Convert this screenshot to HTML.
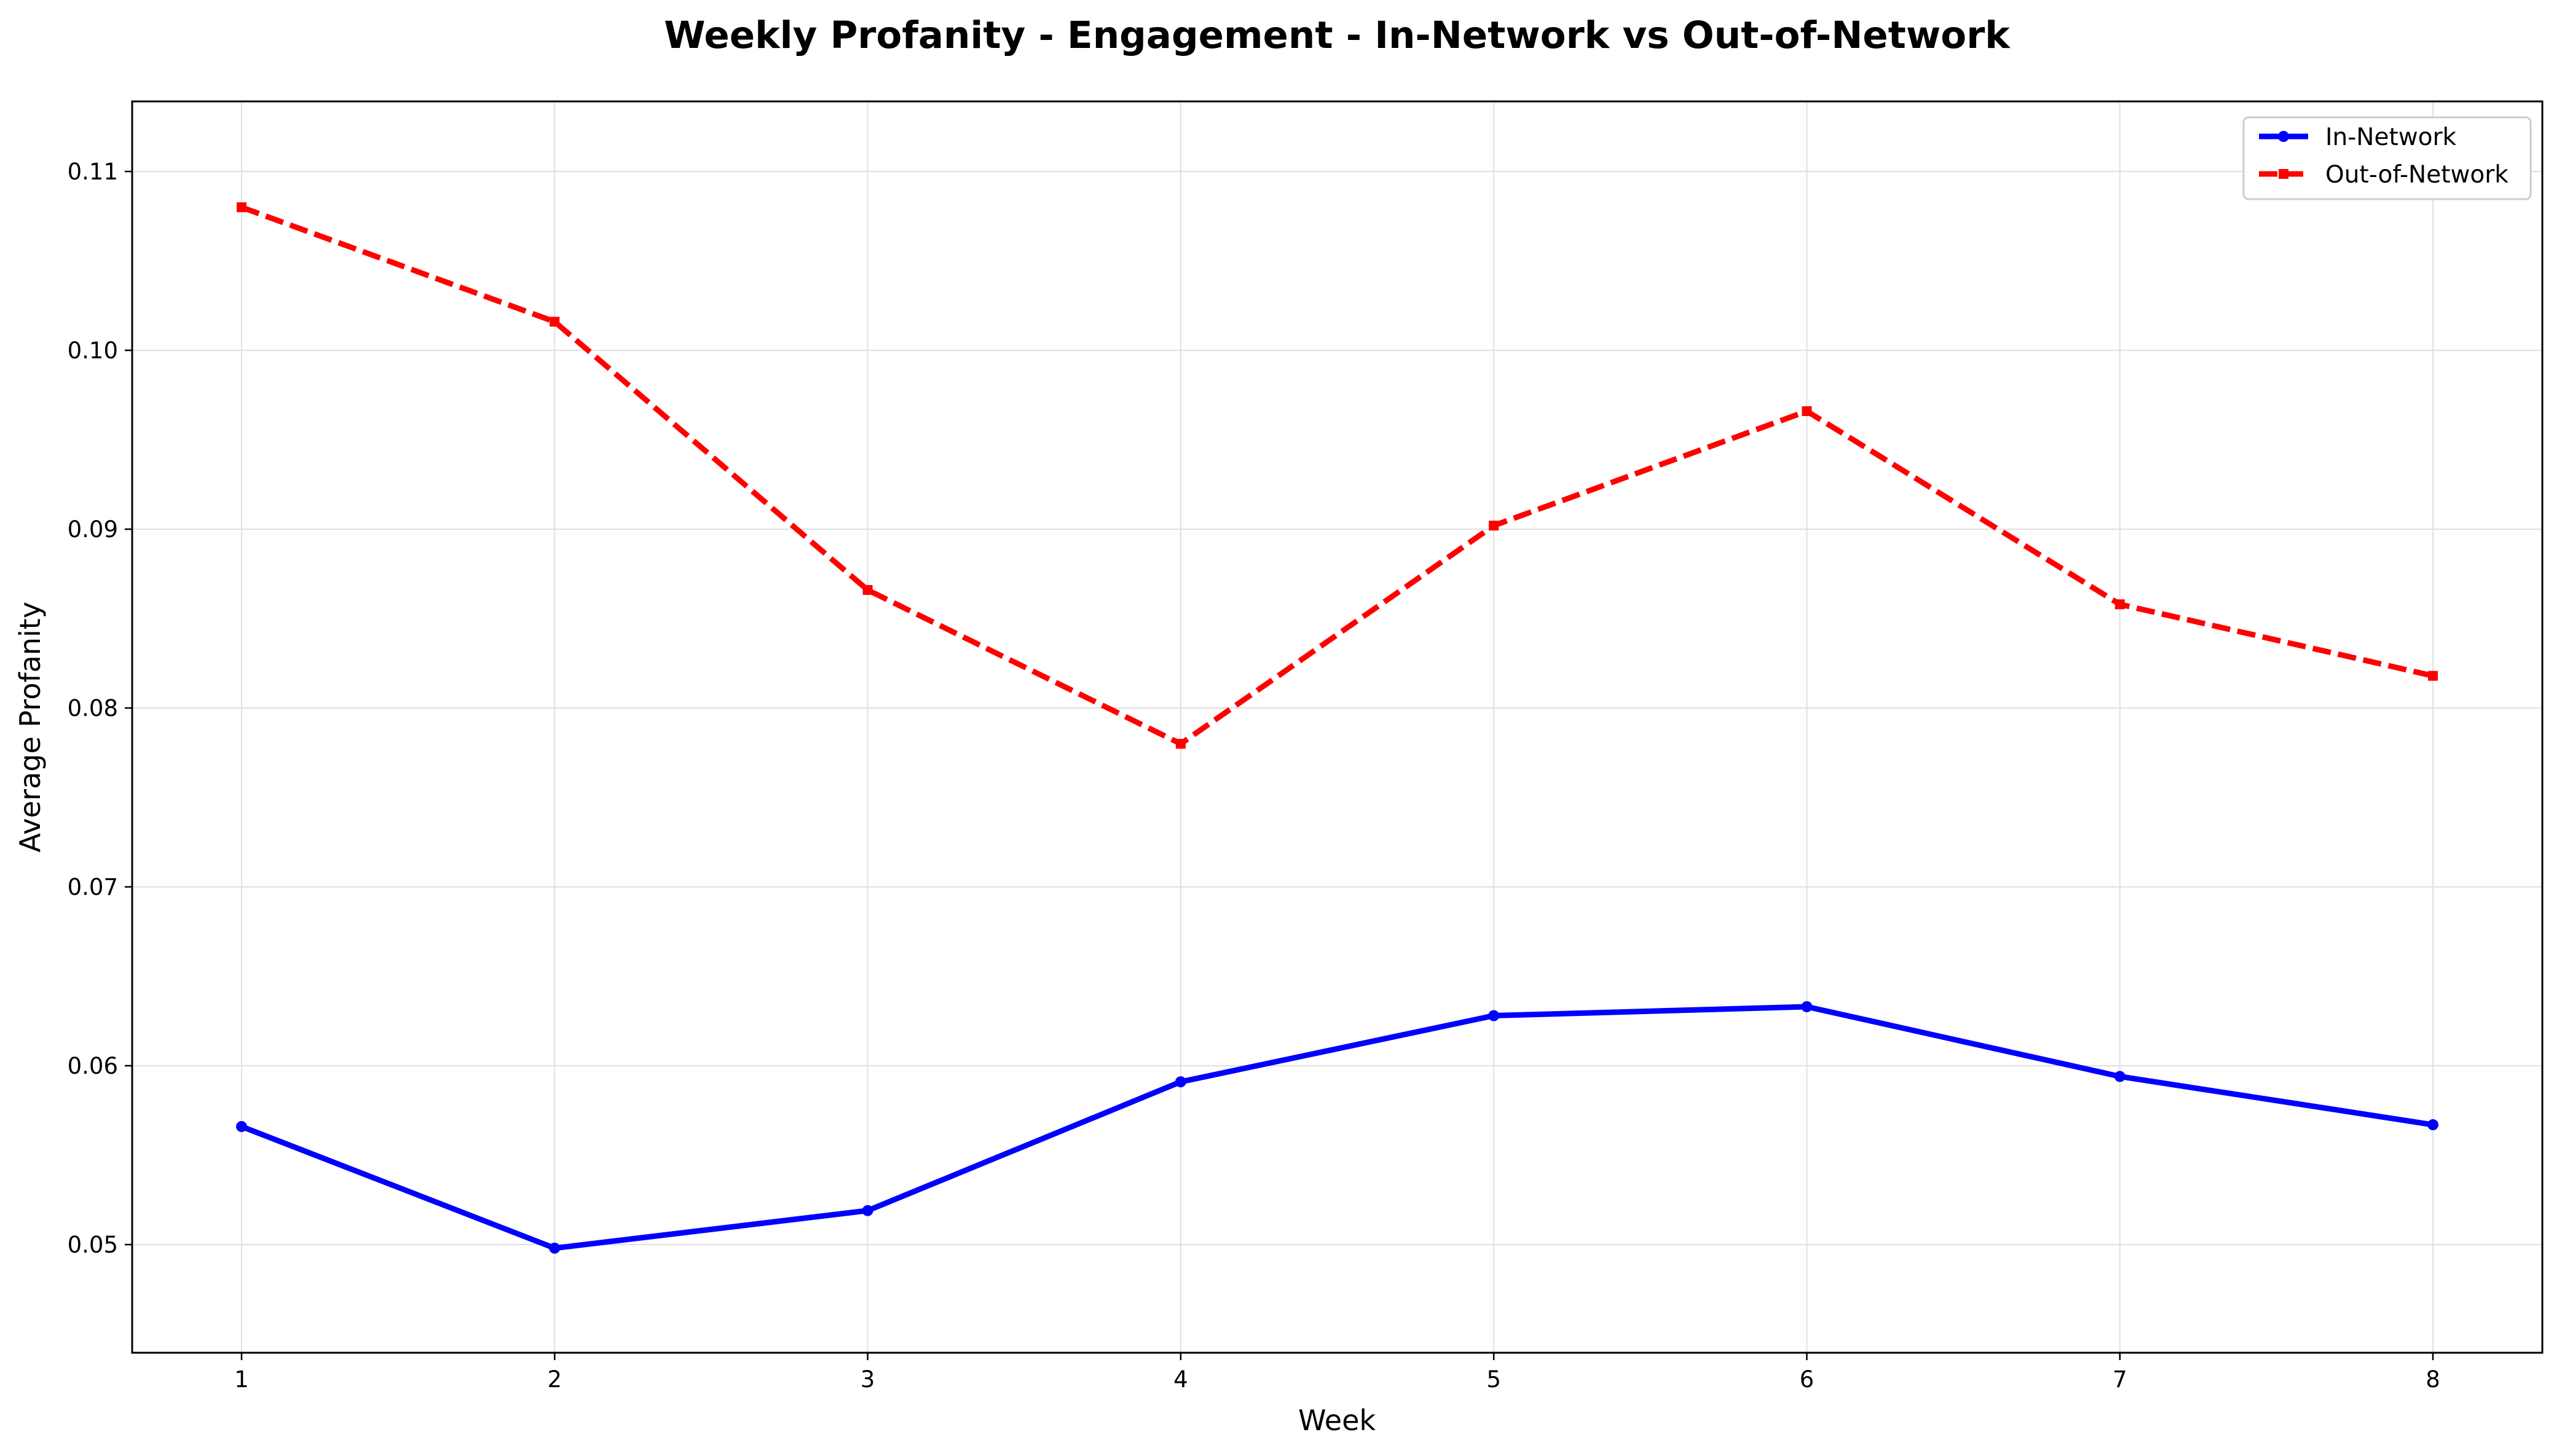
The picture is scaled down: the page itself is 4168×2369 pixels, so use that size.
<!DOCTYPE html>
<html><head><meta charset="utf-8"><style>
html,body{margin:0;padding:0;background:#fff;}
svg{display:block;font-family:"DejaVu Sans","Liberation Sans",sans-serif;}
</style></head><body>
<svg id="chart" width="4168" height="2369" viewBox="0 0 4168 2369" xmlns="http://www.w3.org/2000/svg">
<rect width="4168" height="2369" fill="#fff"/>
<text x="2175" y="78" text-anchor="middle" font-size="61" font-weight="bold">Weekly Profanity - Engagement - In-Network vs Out-of-Network</text>
<g id="grid"></g>
<g id="ticks"></g>
<g id="series"></g>
<rect x="215" y="165" width="3921" height="2036" fill="none" stroke="#000" stroke-width="3"/>
<text x="2175" y="2327" text-anchor="middle" font-size="46">Week</text>
<text transform="translate(65,1183) rotate(-90)" text-anchor="middle" font-size="46">Average Profanity</text>
<g>
<rect x="3650" y="191" width="467" height="133" fill="#fff" stroke="#ccc" stroke-width="3" rx="8"/>
<line x1="3675" y1="222" x2="3755" y2="222" stroke="#0000ff" stroke-width="9"/>
<circle cx="3715" cy="222" r="9" fill="#0000ff"/>
<text x="3783" y="236" font-size="39">In-Network</text>
<line x1="3675" y1="283" x2="3755" y2="283" stroke="#ff0000" stroke-width="9" stroke-dasharray="30,12"/>
<rect x="3707" y="275" width="16" height="16" fill="#ff0000"/>
<text x="3783" y="297" font-size="39">Out-of-Network</text>
</g>
</svg>
<script>
const weeks=[1,2,3,4,5,6,7,8];
const inNetwork=[0.0566,0.0498,0.0519,0.0591,0.0628,0.0633,0.0594,0.0567];
const outNetwork=[0.1080,0.1016,0.0866,0.0780,0.0902,0.0966,0.0858,0.0818];
const yTicks=[0.05,0.06,0.07,0.08,0.09,0.10,0.11];
const yTickLabels=["0.05","0.06","0.07","0.08","0.09","0.10","0.11"];
const NS="http://www.w3.org/2000/svg";
function xS(w){return 393+(w-1)*(3958-393)/7;}
function yS(v){return 2025-(v-0.05)*29100;}
function mk(tag,attrs,parent){const e=document.createElementNS(NS,tag);for(const k in attrs)e.setAttribute(k,attrs[k]);parent.appendChild(e);return e;}
const grid=document.getElementById('grid'),ticks=document.getElementById('ticks'),series=document.getElementById('series');
weeks.forEach(w=>{
  const x=xS(w);
  const g=mk('line',{x1:x,x2:x,y1:165,y2:2201,stroke:'#e0e0e0','stroke-width':2},grid);
  
  
  mk('line',{x1:x,x2:x,y1:2201,y2:2213,stroke:'#000','stroke-width':2.5},ticks);
  const t=mk('text',{x:x,y:2257,'text-anchor':'middle','font-size':37},ticks);
  t.textContent=String(w);
  
  
});
yTicks.forEach((v,i)=>{
  const y=yS(v);
  const g=mk('line',{x1:215,x2:4136,y1:y,y2:y,stroke:'#e0e0e0','stroke-width':2},grid);
  
  
  mk('line',{x1:203,x2:215,y1:y,y2:y,stroke:'#000','stroke-width':2.5},ticks);
  const t=mk('text',{x:192,y:y+13,'text-anchor':'end','font-size':37},ticks);
  t.textContent=yTickLabels[i];
  
  
});
function pts(arr){return arr.map((v,i)=>xS(weeks[i])+','+yS(v)).join(' ');}
const l1=mk('polyline',{points:pts(inNetwork),fill:'none',stroke:'#0000ff','stroke-width':9,'stroke-linejoin':'round'},series);


const l2=mk('polyline',{points:pts(outNetwork),fill:'none',stroke:'#ff0000','stroke-width':9,'stroke-dasharray':'30,12'},series);


inNetwork.forEach((v,i)=>{
  const c=mk('circle',{cx:xS(weeks[i]),cy:yS(v),r:9,fill:'#0000ff'},series);
  
  
});
outNetwork.forEach((v,i)=>{
  const r=mk('rect',{x:xS(weeks[i])-8,y:yS(v)-8,width:16,height:16,fill:'#ff0000'},series);
  
  
});
</script>
</body></html>
